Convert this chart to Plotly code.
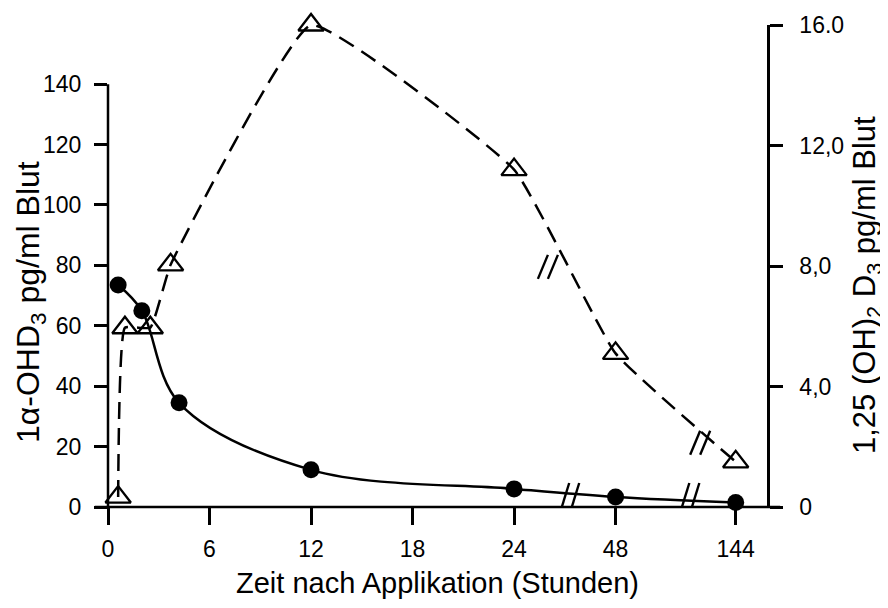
import plotly.graph_objects as go

# ---- data ----
hours_circle = [0.6, 2, 4.2, 12, 24, 48, 144]
ohd3_values = [73.5, 65, 34.5, 12.3, 6, 3.3, 1.5]          # 1α-OHD3 pg/ml (left axis)

hours_triangle = [0.6, 1, 2.5, 3.7, 12, 24, 48, 144]
d3_values = [0.33, 5.95, 5.95, 8.04, 16.0, 11.2, 5.1, 1.5]  # 1,25(OH)2D3 pg/ml (right axis)

x_tick_hours = [0, 6, 12, 18, 24, 48, 144]
x_tick_labels = ["0", "6", "12", "18", "24", "48", "144"]

y_left_ticks = [0, 20, 40, 60, 80, 100, 120, 140]
y_left_labels = ["0", "20", "40", "60", "80", "100", "120", "140"]
y_right_ticks = [0, 4, 8, 12, 16]
y_right_labels = ["0", "4,0", "8,0", "12,0", "16.0"]

# broken time axis: 0-24 h linear, then compressed segments 24-48 and 48-144
def axis_pos(h):
    if h <= 24:
        return h
    if h <= 48:
        return 24 + (h - 24) * 6 / 24
    return 30 + (h - 48) * 7.1 / 96

xc = [axis_pos(h) for h in hours_circle]
xt = [axis_pos(h) for h in hours_triangle]

FONT = "Liberation Sans, Arial, Helvetica, sans-serif"
X_MAX = 38.95
PLOT_W, PLOT_H = 659.0, 482.0

fig = go.Figure()

fig.add_trace(go.Scatter(
    x=xt, y=d3_values, yaxis="y2", mode="lines+markers",
    line=dict(color="black", width=2.5, dash="17px,9px", shape="spline", smoothing=0.35),
    marker=dict(symbol="triangle-up-open", size=22, color="black", line=dict(width=2.3, color="black")),
    showlegend=False, cliponaxis=False,
))
fig.add_trace(go.Scatter(
    x=xc, y=ohd3_values, mode="lines+markers",
    line=dict(color="black", width=2.5, shape="spline", smoothing=1.0),
    marker=dict(symbol="circle", size=17, color="black"),
    showlegend=False, cliponaxis=False,
))

shapes = []
# left axis spine (stops at 140, extends slightly below 0)
shapes.append(dict(type="line", xref="paper", yref="y", x0=0, x1=0, y0=-5.5, y1=140,
                   line=dict(color="black", width=2.5)))
# x axis line (extends a bit beyond both y axes)
shapes.append(dict(type="line", xref="paper", yref="paper", x0=-0.02, x1=1.02, y0=0, y1=0,
                   line=dict(color="black", width=2.5)))

PX_X = X_MAX / PLOT_W      # hours-axis units per pixel
PX_Y = 159.6 / PLOT_H      # left-axis units per pixel
PX_Y2 = 16.0 / PLOT_H      # right-axis units per pixel

# break marks on the time axis / solid line
for bx in [27.2, 34.3]:
    for off in (-5, 5):
        shapes.append(dict(type="line", xref="x", yref="y",
                           x0=bx + (off - 6) * PX_X, y0=-15 * PX_Y,
                           x1=bx + (off + 6) * PX_X, y1=24 * PX_Y,
                           line=dict(color="black", width=2.4)))
# break marks on the dashed line
for bx, by in [(26.0, 7.97), (35.0, 2.13)]:
    for off in (-5, 5):
        shapes.append(dict(type="line", xref="x", yref="y2",
                           x0=bx + (off - 5) * PX_X, y0=by - 12 * PX_Y2,
                           x1=bx + (off + 5) * PX_X, y1=by + 12 * PX_Y2,
                           line=dict(color="black", width=2.4)))

annotations = [
    dict(text="1α-OHD<sub>3</sub> pg/ml Blut", textangle=-90, showarrow=False,
         xref="paper", yref="paper", x=(30 - 108) / PLOT_W, y=(507 - 302) / PLOT_H,
         xanchor="center", yanchor="middle", font=dict(size=32, family=FONT, color="black")),
    dict(text="1,25 (OH)<sub>2</sub> D<sub>3</sub> pg/ml Blut", textangle=-90, showarrow=False,
         xref="paper", yref="paper", x=(867 - 108) / PLOT_W, y=(507 - 285) / PLOT_H,
         xanchor="center", yanchor="middle", font=dict(size=31, family=FONT, color="black")),
]

fig.update_layout(
    width=880, height=600,
    margin=dict(l=100, r=121, t=17, b=101),
    paper_bgcolor="white", plot_bgcolor="white",
    font=dict(family=FONT, color="black", size=23),
    shapes=shapes, annotations=annotations,
    xaxis=dict(
        range=[0, X_MAX], tickmode="array", automargin=False,
        tickvals=[axis_pos(h) for h in x_tick_hours], ticktext=x_tick_labels,
        ticks="outside", ticklen=17, tickwidth=2.5, tickcolor="black",
        ticklabelstandoff=4,
        showline=False, showgrid=False, zeroline=False,
        tickfont=dict(size=23, family=FONT),
        title=dict(text="Zeit nach Applikation (Stunden)", font=dict(size=29, family=FONT), standoff=12),
    ),
    yaxis=dict(
        range=[0, 159.6], tickmode="array", tickvals=y_left_ticks, ticktext=y_left_labels,
        automargin=False,
        ticks="outside", ticklen=13, tickwidth=2.5, tickcolor="black",
        ticklabelstandoff=8,
        showline=False, showgrid=False, zeroline=False,
        tickfont=dict(size=23, family=FONT),
    ),
    yaxis2=dict(
        range=[0, 16.0], overlaying="y", side="right", tickmode="array",
        tickvals=y_right_ticks, ticktext=y_right_labels, automargin=False,
        ticks="outside", ticklen=13, tickwidth=2.5, tickcolor="black",
        ticklabelstandoff=12,
        showline=True, linecolor="black", linewidth=2.5,
        showgrid=False, zeroline=False,
        tickfont=dict(size=23, family=FONT),
    ),
)

fig.write_html("out.html")
